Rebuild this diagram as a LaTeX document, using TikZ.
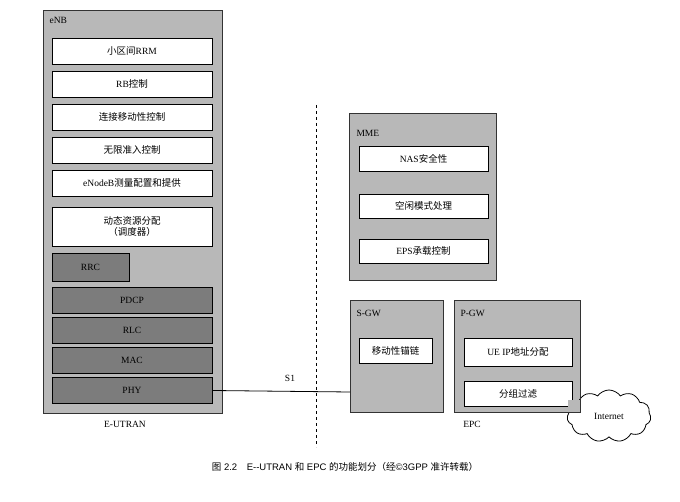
\documentclass[tikz,border=0pt]{standalone}
\usepackage{fontspec}
\setmainfont{Liberation Serif}
\newfontfamily\cjk{Noto Sans CJK SC}
\newfontfamily\capfont{Liberation Sans}
\newcommand{\zh}[1]{{\cjk #1}}
\usetikzlibrary{shapes.symbols}
\definecolor{panel}{HTML}{B8B8B8}
\definecolor{dark}{HTML}{7C7C7C}
\begin{document}
\begin{tikzpicture}[x=1pt,y=-1pt,font=\fontsize{9.5}{11}\selectfont,
 panelbox/.style={draw=black!80,line width=0.8pt,fill=panel},
 wbox/.style={draw=black,line width=0.8pt,fill=white},
 dbox/.style={draw=black,line width=0.8pt,fill=dark}]
\useasboundingbox (0,0) rectangle (680,502);
\newcommand{\bx}[6]{\draw[#1] (#2,#3) rectangle (#4,#5); \node at ({(#2+#4)/2},{(#3+#5)/2}) {#6};}
% eNB
\draw[panelbox] (43,10) rectangle (222,413);
\node[anchor=west] (enbl) at (46,20) {eNB};
\node[wbox,minimum width=160pt,minimum height=26pt,inner sep=0] (b1) at (132,51) {\zh{小区间}RRM};
\node[wbox,minimum width=160pt,minimum height=26pt,inner sep=0] (b2) at (132,84) {RB\zh{控制}};
\node[wbox,minimum width=160pt,minimum height=26pt,inner sep=0] (b3) at (132,117) {\zh{连接移动性控制}};
\node[wbox,minimum width=160pt,minimum height=26pt,inner sep=0] (b4) at (132,150) {\zh{无限准入控制}};
\node[wbox,minimum width=160pt,minimum height=26pt,inner sep=0] (b5) at (132,183) {eNodeB\zh{测量配置和提供}};
\node[wbox,minimum width=160pt,minimum height=39pt,inner sep=0,align=center] (b6) at (132,226.5) {\zh{动态资源分配}\\\zh{（调度器）}};
\node[dbox,minimum width=77pt,minimum height=28pt,inner sep=0] (rrc) at (90.5,267) {RRC};
\node[dbox,minimum width=160pt,minimum height=26pt,inner sep=0] (pdcp) at (132,300) {PDCP};
\node[dbox,minimum width=160pt,minimum height=26pt,inner sep=0] (rlc) at (132,330) {RLC};
\node[dbox,minimum width=160pt,minimum height=26pt,inner sep=0] (mac) at (132,360) {MAC};
\node[dbox,minimum width=160pt,minimum height=26pt,inner sep=0] (phy) at (132,390.5) {PHY};
\node (eutran) at (125,424) {E-UTRAN};
% dashed divider
\draw[dashed,line width=0.8pt] (316,105) -- (316,447);
% MME
\draw[panelbox] (349,113) rectangle (496,280);
\node[anchor=west] (mmel) at (353,133) {MME};
\node[wbox,minimum width=129pt,minimum height=25pt,inner sep=0] (nas) at (423.5,158.5) {NAS\zh{安全性}};
\node[wbox,minimum width=129pt,minimum height=24pt,inner sep=0] (idle) at (423.5,206) {\zh{空闲模式处理}};
\node[wbox,minimum width=129pt,minimum height=24pt,inner sep=0] (eps) at (423.5,251) {EPS\zh{承载控制}};
% S-GW
\draw[panelbox] (350,300) rectangle (443,412);
\node[anchor=west] (sgwl) at (353,313) {S-GW};
\node[wbox,minimum width=73pt,minimum height=25pt,inner sep=0] (anchor) at (395.5,350.5) {\zh{移动性锚链}};
\coordinate (sgwin) at (350,392);
% P-GW
\draw[panelbox] (454,300) rectangle (580,412);
\node[anchor=west] (pgwl) at (457,313) {P-GW};
\node[wbox,minimum width=108pt,minimum height=28pt,inner sep=0] (ueip) at (518,352) {UE IP\zh{地址分配}};
\node[wbox,minimum width=108pt,minimum height=25pt,inner sep=0] (filt) at (518,393.5) {\zh{分组过滤}};
\node (epc) at (472,424) {EPC};
% Internet cloud
\node[cloud,draw,line width=0.8pt,fill=white,cloud puffs=11,cloud puff arc=110,aspect=1.7,minimum width=84pt,minimum height=52pt,inner sep=0] (net) at (609,416) {Internet};
\draw[panelbox,draw=none] (568,400) rectangle (579.5,411.5);
\draw[line width=0.8pt,black!80] (568,412) -- (580,412) -- (580,398);
% S1
\draw[line width=0.8pt] (phy.east) -- (sgwin);
\node (s1) at (290,378) {S1};
% caption
\node (cap) at (345,467) {\capfont\fontsize{9.5}{11}\selectfont\zh{图} 2.2\quad E--UTRAN \zh{和} EPC \zh{的功能划分（经}©3GPP \zh{准许转载）}};
\end{tikzpicture}
\end{document}
